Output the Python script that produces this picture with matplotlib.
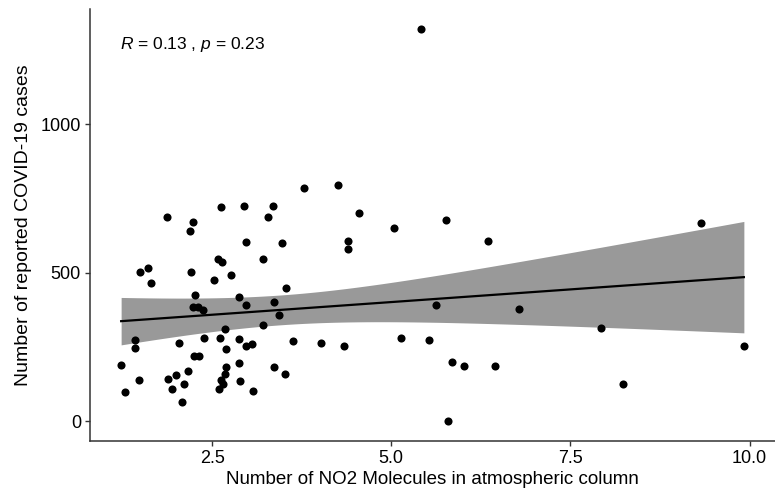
import numpy as np
import matplotlib
matplotlib.use("Agg")
import matplotlib.pyplot as plt

plt.rcParams['font.family'] = ['Liberation Sans', 'DejaVu Sans']
plt.rcParams['mathtext.fontset'] = 'custom'
plt.rcParams['mathtext.rm'] = 'Liberation Sans'
plt.rcParams['mathtext.it'] = 'Liberation Sans:italic'

# NO2 column vs reported cases
no2 = [2.97, 3.48, 2.58, 2.64, 3.21, 1.50, 1.60, 2.21, 2.53, 2.77,
       1.65, 3.53, 2.26, 2.87, 2.23, 2.30, 2.37, 2.97, 3.36, 3.43,
       3.21, 2.68, 1.43, 1.43, 2.39, 2.61, 2.87, 2.04, 2.97, 3.05,
       2.70, 2.24, 2.32, 1.23, 2.87, 2.70, 3.36, 2.17, 3.51, 2.00,
       1.89, 2.68, 2.62, 2.65, 2.60, 1.48, 2.89, 2.11, 1.94, 3.07,
       1.28, 2.08, 1.87, 2.23, 2.19, 2.62, 2.95, 3.35, 3.28, 3.78,
       4.25, 4.55, 5.04, 5.77, 4.39, 4.39, 5.63, 3.63, 4.02, 4.34,
       5.14, 5.53, 5.85, 6.02, 5.79, 6.35, 9.32, 6.78, 7.92, 9.92,
       6.45, 8.24, 5.41]
cases = [602, 599, 546, 537, 545, 501, 515, 501, 476, 493,
         464, 448, 426, 419, 384, 384, 375, 390, 400, 358,
         325, 311, 274, 248, 281, 281, 278, 264, 252, 261,
         244, 220, 220, 188, 195, 184, 184, 171, 158, 156,
         141, 158, 138, 127, 110, 138, 135, 124, 110, 101,
         98, 66, 687, 671, 639, 720, 723, 723, 687, 785,
         794, 700, 651, 679, 608, 581, 390, 269, 264, 252,
         280, 275, 200, 186, 0, 606, 666, 378, 313, 252,
         187, 126, 1321]

x_ticks = [2.5, 5.0, 7.5, 10.0]
y_ticks = [0, 500, 1000]
label_text = r'$\it{R}$ = 0.13 , $\it{p}$ = 0.23'

x = np.array(no2)
y = np.array(cases)

# linear fit with 95% confidence band
n = len(x)
slope, intercept = np.polyfit(x, y, 1)
resid = y - (slope * x + intercept)
s = np.sqrt(np.sum(resid**2) / (n - 2))
xbar = x.mean()
sxx = np.sum((x - xbar)**2)
t_crit = 1.99
xs = np.linspace(x.min(), x.max(), 80)
ys = slope * xs + intercept
half = t_crit * s * np.sqrt(1 / n + (xs - xbar)**2 / sxx)

fig = plt.figure(figsize=(7.75, 4.98), dpi=100)
ax = fig.add_axes([90 / 775, 1 - 441 / 498, 685 / 775, 432 / 498])

ax.fill_between(xs, ys - half, ys + half, color='#999999', linewidth=0, zorder=1)
ax.plot(xs, ys, color='black', linewidth=1.6, zorder=2)
ax.scatter(x, y, s=34, color='black', linewidths=0, zorder=3)

xr = x.max() - x.min()
yr = y.max() - y.min()
ax.set_xlim(x.min() - 0.05 * xr, x.max() + 0.05 * xr)
ax.set_ylim(y.min() - 0.05 * yr, y.max() + 0.05 * yr)

ax.set_xticks(x_ticks)
ax.set_xticklabels(['2.5', '5.0', '7.5', '10.0'])
ax.set_yticks(y_ticks)

for side in ['top', 'right']:
    ax.spines[side].set_visible(False)
for side in ['left', 'bottom']:
    ax.spines[side].set_color('#333333')
    ax.spines[side].set_linewidth(1.1)
ax.tick_params(axis='both', direction='out', length=3.5, width=1.0,
               color='#333333', labelsize=13, labelcolor='black', pad=3)

ax.set_xlabel('Number of NO2 Molecules in atmospheric column', fontsize=13.5, labelpad=3)
ax.set_ylabel('Number of reported COVID-19 cases', fontsize=14, labelpad=6)

ax.text(0.044, 0.917, label_text, transform=ax.transAxes, fontsize=12.5,
        ha='left', va='center')

fig.savefig('out.png', dpi=100)
